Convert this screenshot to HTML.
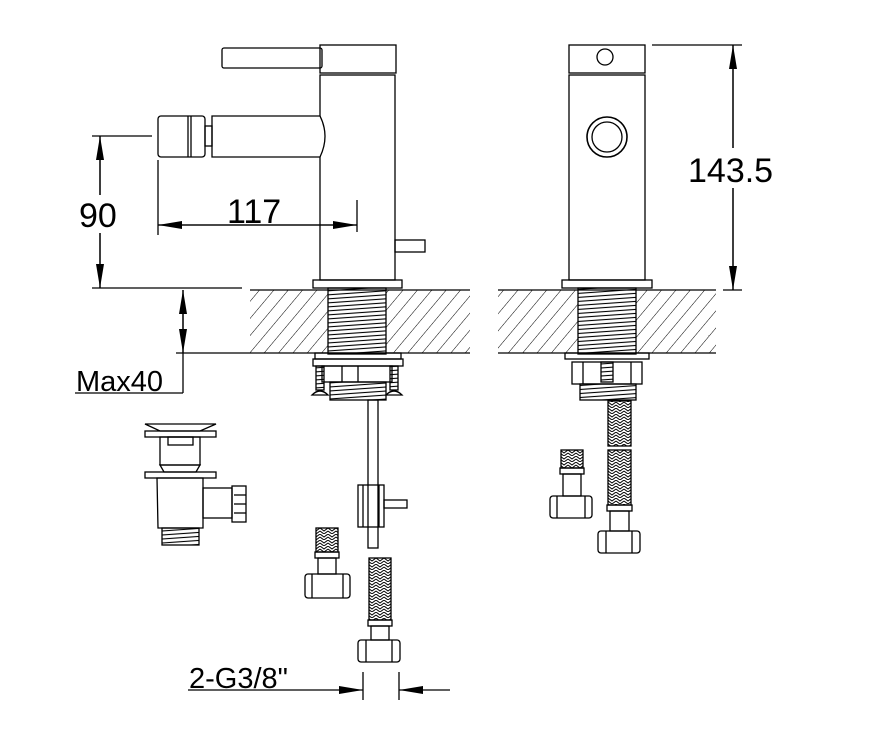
<!DOCTYPE html>
<html><head><meta charset="utf-8"><style>
html,body{margin:0;padding:0;background:#fff}
svg{display:block}
text{font-family:"Liberation Sans",sans-serif;fill:#000}
</style></head><body>
<svg width="880" height="746" viewBox="0 0 880 746" xmlns="http://www.w3.org/2000/svg">
<defs>
<pattern id="hatch" patternUnits="userSpaceOnUse" width="11" height="11" patternTransform="rotate(40)">
<line x1="0" y1="0" x2="0" y2="11" stroke="#000" stroke-width="1"/>
</pattern>
<pattern id="thread" patternUnits="userSpaceOnUse" width="10" height="4" patternTransform="rotate(-4)">
<line x1="0" y1="1" x2="10" y2="1" stroke="#000" stroke-width="1.1"/>
</pattern>
<pattern id="braid" patternUnits="userSpaceOnUse" width="8" height="6">
<path d="M0 0 L4 3 L8 0 M0 3 L4 6 L8 3" stroke="#000" stroke-width="1" fill="none"/>
</pattern>
<marker id="ar" markerWidth="24" markerHeight="10" refX="24" refY="5" orient="auto" markerUnits="userSpaceOnUse">
<path d="M0 1 L24 5 L0 9 Z" fill="#000"/>
</marker>
</defs>
<g stroke="#000" fill="none" stroke-width="1.3">
<!-- LEFT VIEW -->
<rect x="222" y="48" width="100" height="20" rx="2"/>
<rect x="320" y="45" width="76" height="28"/>
<rect x="320" y="75" width="75" height="205"/>
<path d="M212 116 H320 Q330 136 320 157 H212 Z" fill="#fff"/>
<rect x="158" y="116" width="47" height="41" rx="3"/>
<line x1="188" y1="116" x2="188" y2="157"/><line x1="191" y1="116" x2="191" y2="157"/>
<rect x="205" y="126" width="7" height="20"/>
<rect x="395" y="240" width="30" height="12"/>
<rect x="313" y="280" width="89" height="8"/>
<!-- counter left -->
<rect x="250" y="290" width="78" height="63" fill="url(#hatch)" stroke="none"/>
<rect x="386" y="290" width="84" height="63" fill="url(#hatch)" stroke="none"/>
<rect x="328" y="288" width="58" height="66" fill="url(#thread)"/>
<line x1="250" y1="290" x2="470" y2="290"/>
<line x1="176" y1="353" x2="470" y2="353"/>
<!-- nuts left -->
<rect x="315" y="353" width="86" height="6"/>
<rect x="313" y="359" width="90" height="7"/>
<rect x="322" y="366" width="70" height="16"/>
<line x1="342" y1="366" x2="342" y2="382"/><line x1="358" y1="366" x2="358" y2="382"/>
<rect x="330" y="382" width="56" height="18" fill="url(#thread)"/>
<rect x="316" y="366" width="8" height="24" fill="url(#thread)"/>
<rect x="390" y="366" width="8" height="24" fill="url(#thread)"/>
<path d="M312 395 Q320 387 328 395 Z"/><path d="M386 395 Q394 387 402 395 Z"/>
<!-- tube & valve -->
<rect x="368" y="400" width="10" height="148"/>
<rect x="358" y="485" width="26" height="42"/>
<line x1="363" y1="485" x2="363" y2="527"/><line x1="379" y1="485" x2="379" y2="527"/>
<rect x="384" y="500" width="23" height="8"/>
<!-- hose left -->
<rect x="316" y="528" width="22" height="24" fill="url(#braid)"/>
<rect x="315" y="552" width="24" height="6"/>
<rect x="318" y="558" width="18" height="16"/>
<rect x="305" y="574" width="45" height="24" rx="3"/>
<line x1="312" y1="574" x2="312" y2="598"/><line x1="343" y1="574" x2="343" y2="598"/>
<!-- hose right -->
<rect x="369" y="558" width="22" height="62" fill="url(#braid)"/>
<rect x="368" y="620" width="24" height="6"/>
<rect x="371" y="626" width="18" height="14"/>
<rect x="358" y="640" width="42" height="22" rx="3"/>
<line x1="366" y1="640" x2="366" y2="662"/><line x1="392" y1="640" x2="392" y2="662"/>
<!-- drain -->
<path d="M145 424 L216 424 L200 431 L160 431 Z"/>
<rect x="145" y="431" width="71" height="6"/>
<rect x="160" y="437" width="40" height="28"/>
<rect x="168" y="437" width="25" height="8"/>
<path d="M160 465 L200 465 L196 472 L164 472 Z"/>
<rect x="145" y="472" width="71" height="6"/>
<path d="M157 478 L203 478 L203 528 L158 528 Z"/>
<rect x="203" y="488" width="29" height="30"/>
<rect x="232" y="486" width="14" height="36"/>
<line x1="234" y1="495" x2="246" y2="495"/><line x1="234" y1="504" x2="246" y2="504"/><line x1="234" y1="513" x2="246" y2="513"/>
<rect x="162" y="528" width="37" height="17" fill="url(#thread)"/>
<!-- dims left -->
<line x1="92" y1="136" x2="152" y2="136"/>
<line x1="92" y1="288" x2="242" y2="288"/>
<line x1="100" y1="288" x2="100" y2="136" marker-end="url(#ar)"/>
<line x1="100" y1="136" x2="100" y2="288" marker-end="url(#ar)"/>
<line x1="158" y1="160" x2="158" y2="235"/>
<line x1="357" y1="200" x2="357" y2="232"/>
<line x1="357" y1="225" x2="158" y2="225" marker-end="url(#ar)"/>
<line x1="158" y1="225" x2="357" y2="225" marker-end="url(#ar)"/>
<line x1="183" y1="353" x2="183" y2="290" marker-end="url(#ar)"/>
<line x1="183" y1="290" x2="183" y2="353" marker-end="url(#ar)"/>
<line x1="183" y1="353" x2="183" y2="393"/>
<line x1="75" y1="393" x2="183" y2="393"/>
<line x1="188" y1="690" x2="363" y2="690" marker-end="url(#ar)"/>
<line x1="450" y1="690" x2="399" y2="690" marker-end="url(#ar)"/>
<line x1="363" y1="672" x2="363" y2="700"/><line x1="399" y1="672" x2="399" y2="700"/>
<!-- RIGHT VIEW -->
<rect x="569" y="45" width="76" height="28"/>
<circle cx="605" cy="57" r="8"/>
<rect x="569" y="75" width="76" height="205"/>
<circle cx="607" cy="137" r="20" stroke-width="1.6"/>
<circle cx="607" cy="137" r="15"/>
<rect x="562" y="280" width="90" height="8"/>
<rect x="498" y="290" width="80" height="63" fill="url(#hatch)" stroke="none"/>
<rect x="636" y="290" width="80" height="63" fill="url(#hatch)" stroke="none"/>
<rect x="578" y="288" width="58" height="66" fill="url(#thread)"/>
<line x1="498" y1="290" x2="716" y2="290"/>
<line x1="498" y1="353" x2="716" y2="353"/>
<rect x="565" y="353" width="84" height="6"/>
<rect x="572" y="362" width="70" height="22"/>
<line x1="583" y1="362" x2="583" y2="384"/><line x1="631" y1="362" x2="631" y2="384"/>
<rect x="601" y="362" width="12" height="20" fill="url(#thread)"/>
<rect x="580" y="384" width="56" height="16" fill="url(#thread)"/>
<rect x="608" y="401" width="23" height="45" fill="url(#braid)"/>
<rect x="608" y="450" width="23" height="55" fill="url(#braid)"/>
<rect x="607" y="505" width="25" height="6"/>
<rect x="610" y="511" width="19" height="20"/>
<rect x="598" y="531" width="42" height="22" rx="3"/>
<line x1="606" y1="531" x2="606" y2="553"/><line x1="632" y1="531" x2="632" y2="553"/>
<rect x="561" y="450" width="22" height="18" fill="url(#braid)"/>
<rect x="560" y="468" width="24" height="6"/>
<rect x="563" y="474" width="18" height="22"/>
<rect x="550" y="496" width="42" height="22" rx="3"/>
<line x1="557" y1="496" x2="557" y2="518"/><line x1="585" y1="496" x2="585" y2="518"/>
<line x1="652" y1="45" x2="742" y2="45"/>
<line x1="723" y1="290" x2="742" y2="290"/>
<line x1="733" y1="290" x2="733" y2="45" marker-end="url(#ar)"/>
<line x1="733" y1="45" x2="733" y2="290" marker-end="url(#ar)"/>
</g>
<rect x="78" y="195" width="44" height="38" fill="#fff"/>
<text x="79" y="227" font-size="34">90</text>
<text x="227" y="223" font-size="34">117</text>
<rect x="687" y="148" width="90" height="40" fill="#fff"/>
<text x="688" y="182" font-size="34">143.5</text>
<text x="76" y="391" font-size="29">Max40</text>
<text x="189" y="688" font-size="29">2-G3/8"</text>
</svg>
</body></html>
